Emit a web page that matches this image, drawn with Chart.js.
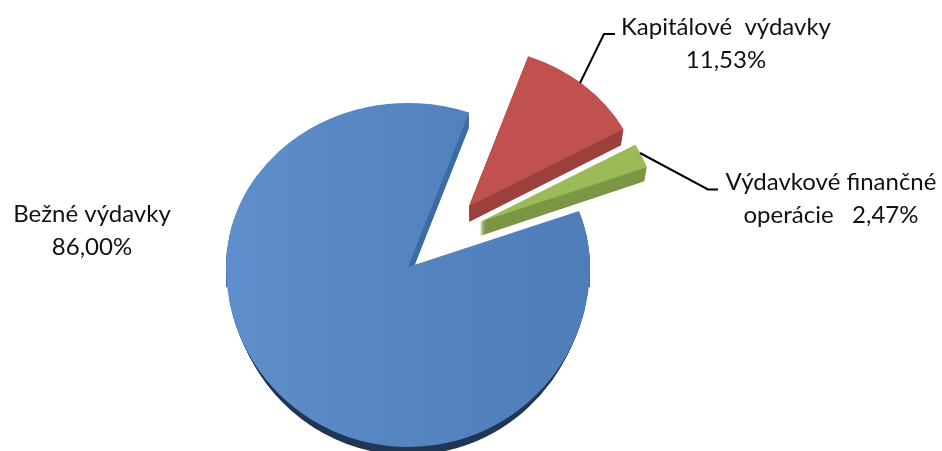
<!DOCTYPE html>
<html>
<head>
<meta charset="utf-8">
<style>html,body{margin:0;padding:0;background:#fff}canvas{display:block}</style>
<script src="https://cdn.jsdelivr.net/npm/chart.js@4"></script>
</head>
<body>
<canvas id="c" width="942" height="451" style="width:942px;height:451px"></canvas>
<script>
const categories = ['Bežné výdavky', 'Kapitálové  výdavky', 'Výdavkové finančné'];
const values = [86.00, 11.53, 2.47];
const topColors = ['#5585c1', '#c0514e', '#9bbb59'];
const wallColors = ['#3d6ca3', '#9d403d', '#7b9645'];
const rimColor = '#1f3655';

const ctx2d = document.getElementById('c').getContext('2d');
const blueFill = ctx2d.createLinearGradient(226, 0, 590, 0);
blueFill.addColorStop(0, '#5e8ecb');
blueFill.addColorStop(0.5, '#5585c1');
blueFill.addColorStop(1, '#4e7db9');

const UP = 164 / 182, DOWN = 180 / 182;
const shifts = [[0, 0], [61, -61], [72, -45]];
const radiusScale = [1, 0.97, 0.975];
const depth = [15, 16, 14];

function paint(ctx, arc, i, o) {
  const dy = o.dy || 0, sx = o.sx || 1, k = radiusScale[i];
  const saved = arc.options;
  ctx.save();
  if (o.clip) { ctx.beginPath(); ctx.rect(o.clip[0], o.clip[1], o.clip[2], o.clip[3]); ctx.clip(); }
  ctx.translate(arc.x + shifts[i][0], arc.y + shifts[i][1] + dy);
  ctx.scale(k * sx, k * o.sy);
  ctx.translate(-arc.x, -arc.y);
  arc.options = Object.assign({}, saved, {backgroundColor: o.color || saved.backgroundColor, borderWidth: 0});
  arc.draw(ctx);
  arc.options = saved;
  ctx.restore();
}

const pie3d = {
  id: 'pie3d',
  beforeDatasetDraw(chart, args) {
    const ctx = chart.ctx;
    const arcs = args.meta.data;
    const cy = arcs[0].y;
    // outer rim of the large slice
    for (let d = 1; d <= 8; d++) {
      paint(ctx, arcs[0], 0, {dy: d, sy: DOWN, sx: 1 - d * 0.003, color: rimColor, clip: [0, cy, 942, 451]});
    }
    // inner wall seen through the gap
    for (let d = 1; d <= depth[0]; d++) {
      paint(ctx, arcs[0], 0, {dy: d, sy: UP, color: wallColors[0], clip: [0, 0, 942, cy + 20]});
    }
    paint(ctx, arcs[0], 0, {sy: UP, clip: [0, 0, 942, cy + 0.5]});
    paint(ctx, arcs[0], 0, {sy: DOWN, clip: [0, cy, 942, 451]});
    for (const i of [1, 2]) {
      for (let d = 0.5; d <= depth[i]; d += 0.5) {
        paint(ctx, arcs[i], i, {dy: d, sy: UP, sx: 1 - d * 0.001, color: wallColors[i]});
      }
      paint(ctx, arcs[i], i, {sy: UP});
    }
    return false;
  },
  afterDraw(chart) {
    const ctx = chart.ctx;
    const pct = v => v.toFixed(2).replace('.', ',') + '%';
    ctx.save();
    ctx.strokeStyle = '#000';
    ctx.lineWidth = 2;
    ctx.beginPath();
    ctx.moveTo(580, 83); ctx.lineTo(604, 34); ctx.lineTo(615, 34);
    ctx.moveTo(640, 153); ctx.lineTo(708, 189.5); ctx.lineTo(718, 189.5);
    ctx.stroke();
    ctx.fillStyle = '#111';
    ctx.textAlign = 'center';
    ctx.textBaseline = 'alphabetic';
    ctx.font = '24px Lato';
    ctx.fillText(categories[0], 92, 222);
    ctx.fillText(pct(values[0]), 92, 255);
    ctx.fillText(categories[1], 726, 35);
    ctx.fillText(pct(values[1]), 726, 68);
    ctx.fillText(categories[2], 831, 190);
    ctx.fillText('operácie   ' + pct(values[2]), 831, 223);
    ctx.restore();
  }
};

new Chart(ctx2d, {
  type: 'pie',
  data: {
    labels: categories,
    datasets: [{
      data: values,
      backgroundColor: [blueFill, topColors[1], topColors[2]],
      borderWidth: 0
    }]
  },
  options: {
    responsive: false,
    animation: false,
    devicePixelRatio: 1,
    rotation: 70,
    radius: 182,
    layout: {padding: {left: 0, right: 126, top: 83, bottom: 0}},
    plugins: {legend: {display: false}, tooltip: {enabled: false}}
  },
  plugins: [pie3d]
});
</script>
</body>
</html>
